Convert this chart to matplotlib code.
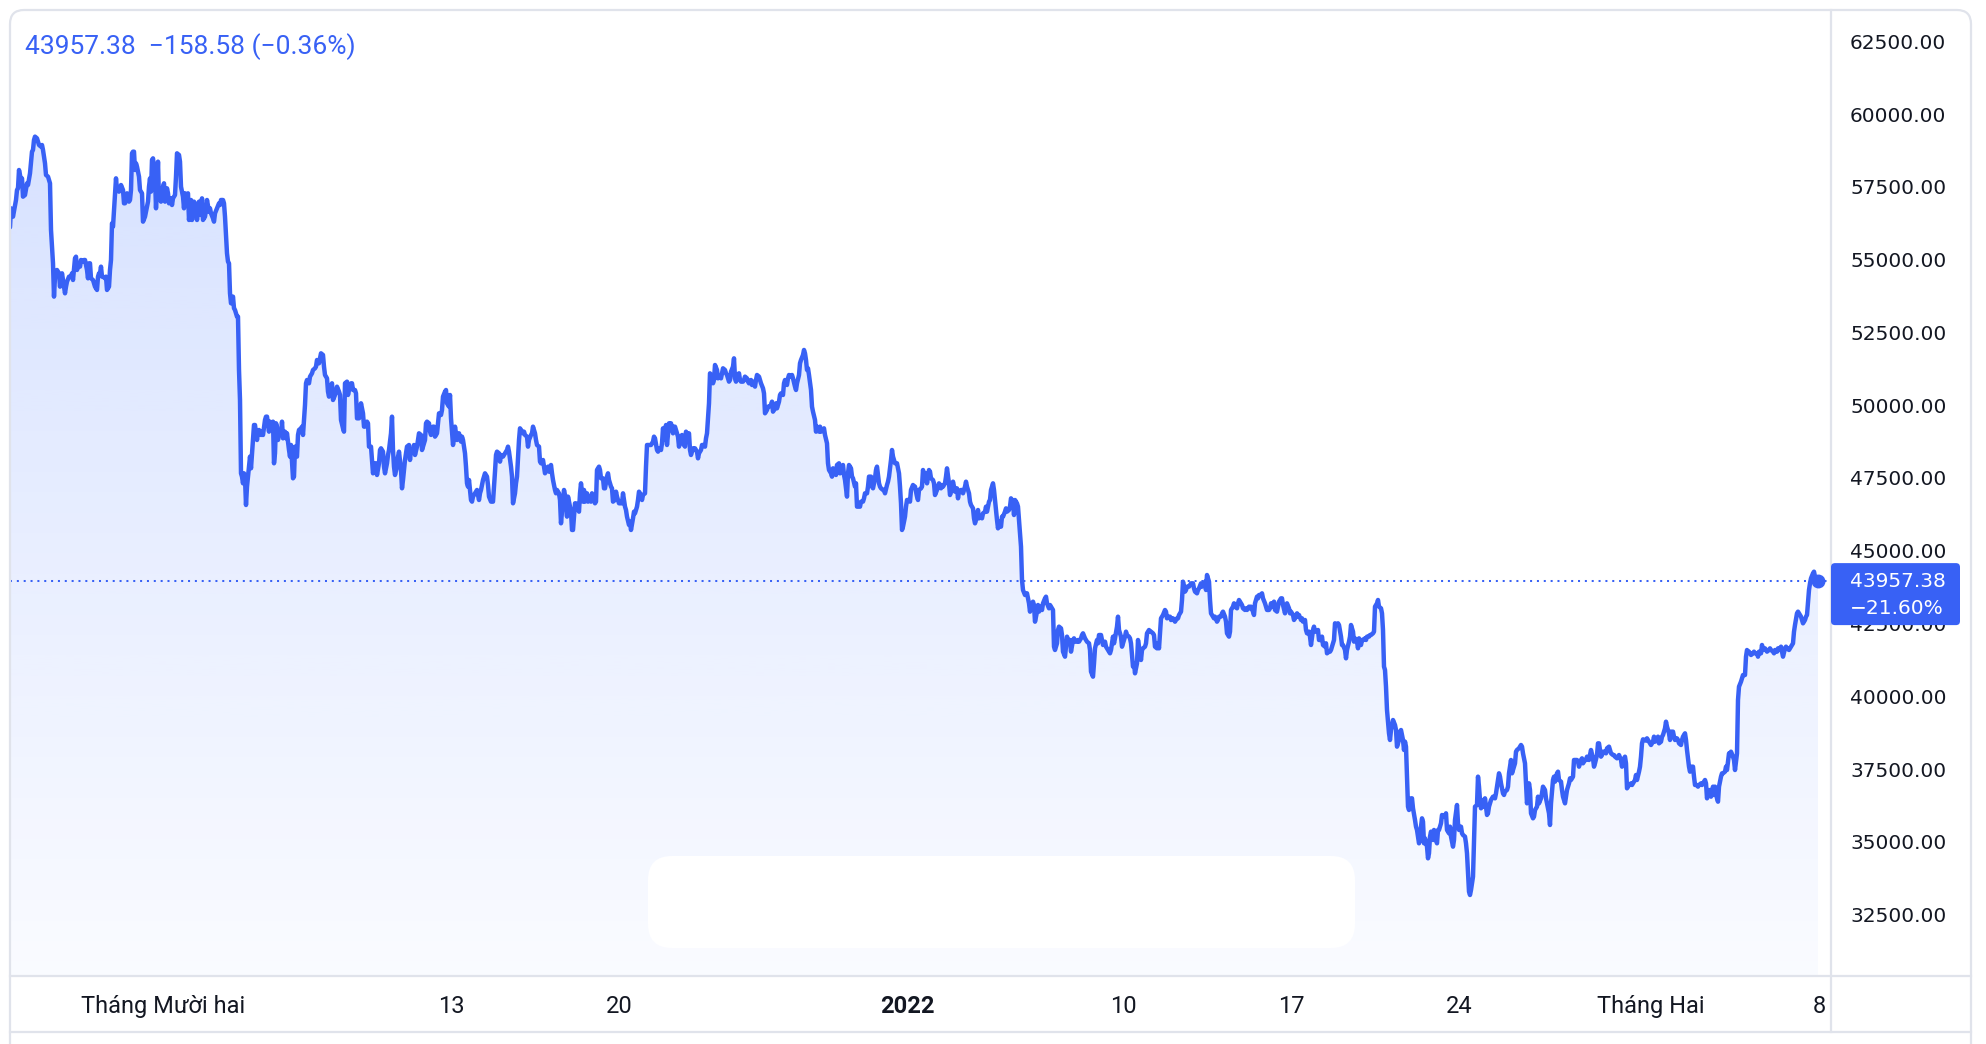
import datetime as dt
import numpy as np
import matplotlib
matplotlib.use("Agg")
import matplotlib.pyplot as plt
import matplotlib.dates as mdates
from matplotlib.patches import FancyBboxPatch, Polygon
from matplotlib.lines import Line2D
from matplotlib.transforms import IdentityTransform

# ---------------- data (hourly BTC price) ----------------
series_start = dt.datetime(2021, 11, 24, 15, 0)
block_start_hours = [0, 300, 600, 900, 1200, 1500]

block1 = [(0,56110),(1,56763),(3,56476),(6,57049),(7,57392),(8,57450),(9,58079),(11,57736),(12,57793),(13,57163),(15,57221),(17,57622),(18,57564),(20,57965),(22,58709),(23,58767),(24,59110),(25,59225),(27,59167),(29,58938),(31,58881),(32,58938),(33,58767),(35,58309),(36,57908),(38,57851),(40,57622),(41,56019),(43,54874),(44,53729),(45,54416),(47,54645),(49,54530),(50,54072),(52,54530),(53,54301),(55,53843),(56,54072),(57,54244),(59,54416),(61,54416),(62,54530),(63,54301),(65,55045),(66,55102),(67,54645),(69,54874),(70,54759),(71,54988),(73,54931),(74,54988),(75,54988),(77,54645),(78,54358),(79,54874),(80,54874),(81,54358),(83,54301),(84,54187),(85,54072),(87,53958),(88,54416),(89,54530),(90,54530),(91,54759),(92,54416),(93,54416),(95,54358),(96,54416),(97,53958),(99,54072),(100,54645),(101,54988),(102,56248),(103,56133),(105,57278),(106,57793),(107,57392),(109,57335),(110,57392),(111,57564),(113,57392),(114,56935),(115,56935),(116,57049),(117,57278),(119,56992),(120,57049),(121,57392),(122,58652),(123,58709),(124,58709),(125,58079),(126,58309),(127,58194),(129,57851),(130,57392),(132,57278),(133,56305),(135,56476),(137,56820),(138,56992),(139,57507),(140,57793),(141,57335),(142,58423),(143,58480),(145,57851),(146,56763),(147,57507),(148,58366),(149,57049),(150,57163),(151,56992),(153,57507),(154,57622),(155,56992),(157,57450),(158,57278),(159,56935),(161,57106),(162,56877),(163,57106),(165,57221),(166,57851),(167,58652),(169,58595),(170,58366),(171,57507),(173,57163),(174,56763),(175,57278),(177,57221),(178,57278),(179,56362),(181,57049),(182,56362),(183,56935),(184,56992),(185,56935),(187,56362),(188,56648),(189,56992),(191,56534),(192,57106),(193,56362),(195,56476),(196,56706),(197,57049),(199,56648),(200,56763),(201,56591),(203,56419),(204,56305),(205,56591),(207,56763),(209,56935),(210,56877),(211,57049),(213,57049),(214,56935),(215,56476),(217,55217),(218,54931),(219,54874),(220,53843),(221,53500),(223,53729),(224,53328),(225,53271),(227,53042),(228,53042),(229,51210),(230,50179),(231,47660),(232,47546),(233,47316),(234,47660),(235,47488),(236,46572),(237,47202),(239,47889),(240,48233),(241,47832),(242,48347),(243,48805),(244,49320),(245,49320),(247,48805),(248,49091),(249,49149),(251,48977),(252,49091),(253,48977),(255,49492),(256,49607),(257,49607),(259,49091),(260,49435),(261,49320),(263,49435),(264,48004),(265,48347),(266,49378),(267,49263),(268,48805),(269,49091),(271,48977),(272,49435),(273,48862),(275,49091),(276,48862),(277,49034),(279,48461),(280,48233),(281,48634),(283,47488),(284,47546),(285,48576),(286,48233),(287,48233),(288,48977),(289,49149),(291,49206),(292,49263),(293,48977),(295,50007),(296,50752),(297,50866),(299,50752),(300,50981),(301,51038),(302,51096),(303,51210),(305,51267),(306,51324),(307,51553),(309,51439)]

block2 = [(11,51782),(13,51725),(14,51324),(15,51038),(17,50923),(18,50465),(19,50294),(21,50637),(22,50752),(23,50179),(25,50351),(26,50465),(27,50637),(29,50465),(30,50351),(31,49492),(33,49206),(34,49091),(35,50752),(37,50809),(38,50351),(39,50523),(41,50752),(42,50752),(43,50523),(45,50523),(46,50408),(47,49549),(49,49549),(50,49778),(51,50065),(53,49721),(54,49263),(55,49263),(57,49435),(58,49378),(59,48576),(61,48576),(62,48118),(63,47660),(65,48004),(66,48004),(67,47603),(69,48004),(70,48461),(71,48519),(73,48404),(74,47889),(75,47660),(77,48004),(78,48290),(79,48461),(81,49034),(82,49607),(83,48461),(84,47889),(85,47603),(87,47889),(88,48233),(89,48404),(91,47775),(92,47145),(93,47431),(95,48118),(96,48347),(97,48576),(99,48633),(100,48118),(101,48461),(103,48404),(104,48633),(105,48290),(107,48576),(108,48805),(109,49034),(111,48977),(112,48461),(113,48576),(115,48805),(116,49378),(117,49435),(119,49378),(120,49091),(121,48977),(123,49263),(124,49263),(125,48920),(127,49034),(128,49378),(129,49721),(131,49664),(132,49836),(133,50294),(135,50465),(136,50523),(137,50065),(139,49950),(140,50351),(141,49549),(143,48633),(144,48862),(145,49263),(147,48805),(148,49034),(149,49034),(151,48748),(152,48920),(153,48805),(155,48347),(156,47889),(157,47317),(158,47202),(159,47431),(161,46744),(162,46687),(163,46859),(165,46973),(166,47030),(167,47088),(169,46744),(170,46973),(171,47088),(173,47431),(174,47546),(175,47660),(177,47546),(178,47259),(179,46859),(181,46687),(182,46687),(183,46687),(185,47717),(186,48290),(187,48404),(189,48347),(190,48061),(191,48290),(193,48233),(194,48290),(195,48347),(197,48461),(198,48576),(199,48404),(201,47889),(202,47546),(203,46630),(205,46973),(206,47317),(207,47546),(209,48805),(210,49206),(211,49149),(213,49034),(214,49091),(215,48977),(217,48920),(218,48576),(219,48805),(221,48977),(222,49034),(223,49263),(225,49034),(226,48805),(227,48633),(229,48576),(230,48061),(231,48004),(233,48118),(234,47889),(235,47660),(237,47832),(238,47889),(239,47717),(241,47946),(242,47660),(243,47431),(245,47088),(246,46973),(247,47088),(249,46973),(250,46744),(251,45943),(253,46744),(254,47088),(255,46916),(257,46172),(258,46859),(259,46687),(261,46343),(262,45714),(263,45714),(265,46630),(266,46630),(267,46515),(269,46343),(270,46973),(271,47317),(273,46687),(274,47088),(275,46687),(277,46973),(278,46687),(279,46859),(281,46687),(282,46973),(283,46859),(285,46630),(286,46687),(287,47775),(289,47889),(290,47775),(291,47488),(293,47488),(294,47145),(295,47145),(297,47546),(298,47660),(299,47431),(301,47202),(302,47145),(303,46687),(305,46744),(306,47030),(307,46859),(309,46630)]

block3 = [(12,46630),(13,46973),(15,46515),(16,46401),(17,46172),(19,45885),(20,46000),(21,45714),(23,46114),(24,46343),(25,46286),(27,46515),(28,46744),(29,47030),(31,46916),(32,46744),(33,46916),(35,46973),(36,47889),(37,48633),(40,48633),(41,48633),(43,48748),(44,48920),(45,48862),(47,48461),(48,48404),(49,48519),(51,48461),(52,48690),(53,49206),(55,48805),(56,49320),(57,48633),(59,49378),(60,49263),(61,49378),(63,49034),(64,49263),(65,49263),(67,49034),(68,48920),(69,48576),(71,48920),(72,48977),(73,48690),(75,48576),(76,49091),(77,48920),(79,49034),(80,48461),(81,48290),(83,48519),(84,48461),(85,48519),(87,48404),(88,48175),(89,48347),(91,48461),(92,48633),(93,48633),(95,48576),(96,48862),(97,49034),(99,50065),(100,51095),(101,51038),(103,50752),(104,50866),(105,51381),(107,51210),(108,50923),(109,50981),(111,50923),(112,51095),(113,51267),(115,51210),(116,51095),(117,51038),(119,50809),(120,50866),(121,51152),(123,51324),(124,51610),(125,50923),(126,50809),(127,51038),(129,51095),(130,50866),(131,50809),(133,50809),(134,50866),(135,50981),(137,50923),(138,50809),(139,50752),(141,50866),(142,50694),(143,50809),(145,50637),(146,50866),(147,51038),(149,50981),(150,50866),(151,50752),(153,50580),(154,50408),(155,49721),(157,49836),(158,49950),(159,49950),(161,50007),(162,50122),(163,49778),(165,49893),(166,50065),(167,49893),(169,50122),(170,50351),(171,50408),(173,50351),(174,50752),(175,50866),(177,50694),(178,50923),(179,51038),(181,50981),(182,51038),(183,50923),(185,50637),(186,50523),(187,50752),(189,51038),(190,51439),(191,51553),(193,51725),(194,51897),(195,51782),(196,51553),(197,51210),(198,51267),(199,51038),(201,50523),(202,49950),(203,49778),(205,49492),(206,49091),(207,49263),(209,49091),(210,49263),(211,49091),(213,49149),(214,49206),(215,48977),(217,48690),(218,48004),(219,47775),(221,47660),(222,47546),(223,47832),(225,47775),(226,47603),(227,47946),(229,48004),(230,47660),(231,47832),(233,47946),(234,47603),(235,47431),(237,46859),(238,47660),(239,47946),(241,47832),(242,47546),(243,47488),(245,47202),(246,47317),(247,46515),(250,46515),(251,46687),(253,46687),(254,46801),(255,46973),(257,46973),(258,47202),(259,47546),(261,47546),(262,47202),(263,47145),(265,47488),(266,47775),(267,47889),(269,47317),(270,47202),(271,47145),(273,47088),(274,47088),(275,46973),(277,47259),(278,47374),(279,47546),(281,48118),(282,48461),(283,48233),(285,48004),(287,48004),(289,47660),(290,47202),(291,46630),(292,45714),(293,45828),(295,46172),(296,46515),(297,46744),(299,46744),(300,46687),(301,47088),(303,47259),(304,47202),(305,47202),(307,46859),(308,46744),(309,47088)]

block4 = [(11,47144),(12,47202),(13,47774),(15,47430),(16,47660),(17,47316),(19,47774),(20,47717),(21,47488),(23,47430),(24,47316),(25,46915),(27,47087),(28,47202),(29,47316),(31,47144),(32,47259),(33,47202),(35,47316),(36,47545),(37,47831),(39,47316),(40,46915),(41,47030),(43,47373),(44,47202),(45,47030),(47,47144),(48,46801),(49,47030),(51,47087),(52,47087),(53,46973),(55,47202),(56,47373),(57,47202),(59,46973),(60,46686),(61,46572),(63,46457),(64,46114),(65,45942),(67,46171),(68,46400),(69,46114),(71,46171),(72,46114),(73,46286),(75,46343),(76,46515),(77,46343),(79,46686),(80,46744),(81,47087),(83,47316),(84,47087),(85,46744),(87,46057),(88,45770),(89,45999),(91,45828),(92,46171),(93,46171),(95,46343),(96,46457),(97,46343),(99,46400),(100,46515),(101,46801),(103,46686),(104,46228),(105,46744),(107,46629),(108,46515),(109,46057),(111,45140),(112,43996),(113,43652),(115,43480),(116,43538),(117,43538),(119,43194),(120,42908),(121,43137),(123,43251),(124,43137),(125,42564),(127,42908),(128,43137),(129,42908),(131,43080),(132,42965),(133,43194),(135,43366),(136,43423),(137,43194),(139,43022),(140,43137),(141,43080),(143,42965),(144,41705),(145,41591),(147,41820),(148,42278),(149,42393),(151,42335),(152,42106),(153,41534),(155,41362),(156,41705),(157,42049),(159,41820),(160,41935),(161,41534),(163,41935),(164,41992),(165,41877),(167,41877),(168,41935),(169,41877),(171,41992),(172,42106),(173,42164),(175,41992),(176,41935),(177,41877),(179,41820),(180,41591),(181,40847),(183,40675),(184,41133),(185,41648),(187,41935),(188,41820),(189,42106),(191,42106),(192,41935),(193,41763),(195,41877),(196,41705),(197,41648),(199,41534),(200,41477),(201,41591),(203,42049),(204,41820),(205,41992),(207,42393),(208,42736),(209,42278),(211,42049),(212,41705),(213,41820),(215,42049),(216,42221),(217,42106),(219,42049),(220,41992),(221,41820),(223,41019),(224,41133),(225,40790),(227,41133),(228,41935),(229,41705),(231,41248),(232,41591),(233,41648),(235,41705),(236,41820),(237,42164),(239,42278),(240,42221),(241,42221),(243,42164),(244,42106),(245,41705),(247,41648),(248,41820),(249,41648),(251,42679),(252,42736),(253,42793),(255,42965),(256,42908),(257,42679),(259,42736),(260,42736),(261,42621),(263,42679),(264,42621),(265,42564),(267,42679),(268,42679),(269,42793),(271,42908),(272,43309),(273,43938),(275,43595),(276,43652),(277,43767),(279,43767),(280,43824),(281,43881),(283,43881),(284,43709),(285,43595),(287,43538),(288,43652),(289,43709),(291,43881),(292,43767),(293,43824),(295,43938),(296,43652),(297,44167),(299,43938),(300,43309),(301,42850),(303,42736),(304,42679),(305,42736),(307,42564),(308,42621),(309,42736)]

block5 = [(11,42737),(12,42851),(13,42908),(15,42737),(16,42565),(17,42164),(19,42050),(20,42221),(21,42966),(23,43080),(24,43195),(25,43080),(27,43023),(28,43195),(29,43309),(31,43195),(32,43137),(33,43023),(35,42966),(36,43023),(37,42966),(39,43080),(40,43023),(41,43080),(43,42908),(44,42794),(45,43195),(47,43424),(48,43366),(49,43481),(51,43481),(52,43538),(53,43366),(55,43195),(56,43080),(57,42966),(59,42966),(60,43023),(61,43195),(63,43080),(64,43252),(65,42966),(67,42908),(68,43080),(69,43252),(71,43366),(72,43366),(73,43137),(75,42851),(76,43080),(77,43195),(79,43023),(80,42851),(81,42908),(83,42794),(84,42622),(85,42679),(87,42851),(88,42737),(89,42794),(91,42622),(92,42679),(93,42565),(95,42622),(96,42279),(97,42164),(99,42221),(100,42050),(101,41763),(103,42279),(104,42393),(105,42221),(107,42221),(108,42279),(109,41935),(111,41935),(112,42050),(113,41763),(115,41706),(116,41821),(117,41477),(119,41534),(120,41534),(121,41592),(123,41821),(124,41935),(125,42508),(127,42450),(128,42508),(129,42450),(131,42050),(132,41763),(133,41763),(135,41592),(136,41305),(137,41592),(139,41878),(140,42050),(141,42450),(143,42221),(144,41878),(145,41992),(147,41878),(148,41649),(149,41992),(151,41763),(152,41935),(153,41935),(155,41992),(156,41935),(157,42050),(159,42050),(160,42107),(161,42107),(163,42164),(164,42221),(165,43080),(167,43195),(168,43309),(169,43080),(171,43023),(172,42851),(173,42279),(174,41019),(175,40905),(176,40332),(177,39531),(179,38729),(180,38500),(181,38843),(182,39015),(183,39187),(185,39015),(186,38843),(187,38271),(189,38500),(190,38786),(191,38843),(193,38500),(194,38157),(195,38443),(196,38271),(197,37241),(198,36210),(199,36096),(201,36496),(202,36496),(203,36153),(205,35752),(206,35523),(207,35409),(209,34951),(210,35065),(211,35523),(212,35809),(213,35695),(214,34951),(215,35122),(217,34836),(218,34435),(219,34607),(220,35180),(221,35351),(223,35065),(224,35409),(225,35180),(227,34951),(228,35409),(229,35409),(231,35638),(232,35924),(233,35867),(235,35867),(236,35981),(237,35409),(239,35294),(240,35523),(241,35180),(243,34836),(244,35065),(245,35752),(247,36267),(248,35638),(249,35409),(251,35523),(252,35294),(253,35237),(255,35180),(256,34951),(257,34607),(258,33920),(259,33290),(260,33176),(261,33347),(263,33805),(264,34951),(265,36210),(267,36267),(268,37241),(269,36897),(270,36439),(271,36153),(273,36439),(274,36210),(275,36496),(277,35924),(278,35981),(279,36210),(281,36439),(282,36496),(283,36554),(285,36496),(286,36668),(287,36897),(289,37355),(290,37241),(291,37012),(293,36668),(294,36611),(295,36725),(297,36782),(298,36897),(299,37355),(301,37813),(302,37355),(303,37470),(305,37699),(306,38099),(307,38157),(309,38214)]

block6 = [(11,38328),(12,38271),(13,38041),(15,37698),(16,37011),(17,36324),(19,37011),(20,36782),(21,35981),(23,35809),(24,35866),(25,36095),(27,36210),(28,36553),(29,36324),(31,36496),(32,36668),(33,36897),(35,36782),(36,36496),(37,36324),(39,35981),(40,35580),(41,36324),(43,37126),(44,37240),(45,37068),(47,37355),(48,37412),(49,37126),(51,37068),(52,36782),(53,36553),(55,36324),(56,36553),(57,36782),(59,37011),(60,37183),(61,37126),(63,37240),(64,37813),(65,37813),(67,37813),(68,37755),(69,37584),(71,37813),(72,37870),(73,37698),(75,37813),(76,37813),(77,37927),(79,37813),(80,37984),(81,38156),(83,37870),(84,37584),(85,37698),(87,37984),(88,38385),(89,38385),(91,37927),(92,37984),(93,38099),(95,38099),(96,38041),(97,38213),(99,38271),(100,38156),(101,38041),(103,37984),(104,37984),(105,37927),(107,37870),(108,37927),(109,37984),(111,37813),(112,37584),(113,37813),(115,37927),(116,37698),(117,36839),(118,36896),(119,36954),(121,37011),(122,36954),(123,37011),(125,37126),(126,37297),(127,37126),(129,37412),(130,37584),(131,37927),(132,38385),(133,38522),(135,38500),(136,38477),(137,38557),(139,38442),(140,38385),(141,38328),(143,38442),(144,38614),(145,38442),(147,38500),(148,38614),(149,38385),(151,38442),(152,38614),(153,38671),(155,38900),(156,39129),(157,38958),(159,38729),(160,38500),(161,38786),(163,38786),(164,38614),(165,38500),(167,38557),(168,38500),(169,38385),(171,38328),(172,38500),(173,38614),(175,38729),(176,38500),(177,38156),(179,37584),(180,37412),(181,37584),(183,37584),(184,37240),(185,36954),(187,36954),(188,36897),(189,36954),(191,37011),(192,36954),(193,37011),(195,37126),(196,37011),(197,36496),(199,36782),(200,36610),(201,36553),(203,36897),(204,36610),(205,36897),(207,36496),(208,36381),(209,36897),(211,37240),(212,37355),(213,37355),(215,37412),(216,37584),(217,37469),(219,38041),(220,37984),(221,38099),(223,37927),(224,37813),(225,37469),(227,38041),(228,39874),(229,40331),(231,40503),(232,40618),(233,40732),(235,40732),(236,41362),(237,41591),(238,41534),(239,41534),(240,41477),(241,41419),(243,41477),(244,41534),(245,41477),(247,41477),(248,41362),(249,41534),(251,41477),(252,41763),(253,41591),(255,41648),(256,41591),(257,41534),(259,41591),(260,41648),(261,41591),(263,41534),(264,41477),(265,41591),(267,41534),(268,41648),(269,41591),(271,41706),(272,41534),(273,41362),(275,41648),(276,41706),(277,41648),(279,41591),(280,41648),(281,41706),(283,41820),(284,42221),(285,42450),(287,42851),(288,42908),(289,42851),(291,42736),(292,42622),(293,42507),(295,42622),(296,42736),(297,42793),(299,43652),(300,43881),(301,44053),(303,44225),(304,44282),(305,44110),(307,43996),(308,43957.38)]

last_price = 43957.38
last_change = -158.58
last_change_pct = -0.36
period_change_pct = -21.60

price_ticks = [32500, 35000, 37500, 40000, 42500, 45000, 47500, 50000,
               52500, 55000, 57500, 60000, 62500]
time_tick_dates = [dt.datetime(2021, 12, 1), dt.datetime(2021, 12, 13),
                   dt.datetime(2021, 12, 20), dt.datetime(2022, 1, 1),
                   dt.datetime(2022, 1, 10), dt.datetime(2022, 1, 17),
                   dt.datetime(2022, 1, 24), dt.datetime(2022, 2, 1),
                   dt.datetime(2022, 2, 8)]
time_tick_labels = ["Tháng Mười hai", "13", "20", "2022", "10", "17", "24",
                    "Tháng Hai", "8"]
view_hours = 1821          # visible time span of the pane
y_range = (30393, 63575)   # visible price range of the pane

# ---------------- assemble ----------------
hours, prices = [], []
for off, blk in zip(block_start_hours, [block1, block2, block3, block4, block5, block6]):
    for h, p in blk:
        hours.append(off + h)
        prices.append(p)
times = [series_start + dt.timedelta(hours=h) for h in hours]
tnum = mdates.date2num(times)
prices = np.array(prices, dtype=float)

# ---------------- style ----------------
BLUE = "#3861F5"
BORDER = "#E0E3EB"
TEXT = "#131722"
SANS = ["Roboto", "DejaVu Sans"]
SCALE_FONT = ["DejaVu Sans"]

W, H = 1986, 1044
fig = plt.figure(figsize=(W / 100, H / 100), dpi=100)
fig.patch.set_facecolor("white")

PL, PR, PT, PB = 10, 1831, 10, 976   # pane edges in pixels (from top-left)
ax = fig.add_axes([PL / W, (H - PB) / H, (PR - PL) / W, (PB - PT) / H])
ax.set_facecolor("white")

x0 = mdates.date2num(series_start)
x1 = mdates.date2num(series_start + dt.timedelta(hours=view_hours))
ylo, yhi = y_range

# gradient area fill
n = 256
img = np.zeros((n, 1, 4))
img[..., 0] = 41 / 255
img[..., 1] = 98 / 255
img[..., 2] = 1.0
img[..., 3] = np.linspace(0.21, 0.025, n)[:, None]
im = ax.imshow(img, extent=[x0, x1, ylo, yhi], origin="upper", aspect="auto",
               interpolation="bilinear", zorder=1)
poly = Polygon(np.column_stack([np.r_[tnum[0], tnum, tnum[-1]],
                                np.r_[ylo, prices, ylo]]),
               closed=True, facecolor="none", edgecolor="none")
ax.add_patch(poly)
im.set_clip_path(poly)

# white rounded overlay near the bottom of the pane
ax.add_patch(FancyBboxPatch((648, H - 948), 707, 92,
                            boxstyle="round,pad=0,rounding_size=24",
                            fc="white", ec="none", transform=IdentityTransform(),
                            zorder=2))

# last price dotted line
ax.axhline(last_price, color=BLUE, lw=1.45, ls=(0, (1, 2.4)), zorder=3)

# price line
ax.plot(tnum, prices, color=BLUE, lw=3.2, solid_joinstyle="round",
        solid_capstyle="round", zorder=4)
ax.plot([tnum[-1]], [prices[-1]], "o", ms=9, color=BLUE, mec=BLUE, zorder=5)

ax.set_xlim(x0, x1)
ax.set_ylim(ylo, yhi)

for s in ax.spines.values():
    s.set_visible(False)

# time scale
ax.set_xticks(mdates.date2num(time_tick_dates))
ax.set_xticklabels(time_tick_labels)
ax.tick_params(axis="x", length=0, pad=13.5, labelsize=17, labelcolor=TEXT)
for lbl in ax.get_xticklabels():
    lbl.set_fontfamily(SANS)
    if lbl.get_text() == "2022":
        lbl.set_fontweight("bold")

# price scale
ax.yaxis.tick_right()
ax.set_yticks(price_ticks)
ax.set_yticklabels([f"{v:.2f}" for v in price_ticks])
ax.tick_params(axis="y", length=0, pad=13.7, labelsize=14.5, labelcolor=TEXT)
for lbl in ax.get_yticklabels():
    lbl.set_fontfamily(SCALE_FONT)
    lbl.set_horizontalalignment("left")

# frame and separators
ident = IdentityTransform()
fig.add_artist(FancyBboxPatch((10, -40), 1961, H - 10 + 40,
                              boxstyle="round,pad=0,rounding_size=14",
                              fc="none", ec=BORDER, lw=1.6, transform=ident))
fig.add_artist(Line2D([10, 1971], [H - 976, H - 976], color=BORDER, lw=1.6,
                      transform=ident))
fig.add_artist(Line2D([10, 1971], [H - 1032, H - 1032], color=BORDER, lw=1.6,
                      transform=ident))
fig.add_artist(Line2D([1831, 1831], [H - 1032, H - 10], color=BORDER, lw=1.6,
                      transform=ident))

# last-price badge on the price scale
yd = ax.transData.transform((tnum[-1], last_price))[1]
fig.add_artist(FancyBboxPatch((1831, yd - 44), 129, 62,
                              boxstyle="round,pad=0,rounding_size=4",
                              fc=BLUE, ec="none", transform=ident, zorder=5))
fig.text(1850, yd, f"{last_price:.2f}", transform=ident, ha="left",
         va="center", color="white", fontsize=14.5, family=SCALE_FONT, zorder=6)
fig.text(1850, yd - 27, f"\u2212{abs(period_change_pct):.2f}%", transform=ident,
         ha="left", va="center", color="white", fontsize=14.5,
         family=SCALE_FONT, zorder=6)

# legend text top-left
fig.text(25, H - 47,
         f"{last_price:.2f}  \u2212{abs(last_change):.2f} (\u2212{abs(last_change_pct):.2f}%)",
         transform=ident, ha="left", va="center", color=BLUE, fontsize=19,
         family=SANS)

fig.savefig("out.png", dpi=100, facecolor="white")
